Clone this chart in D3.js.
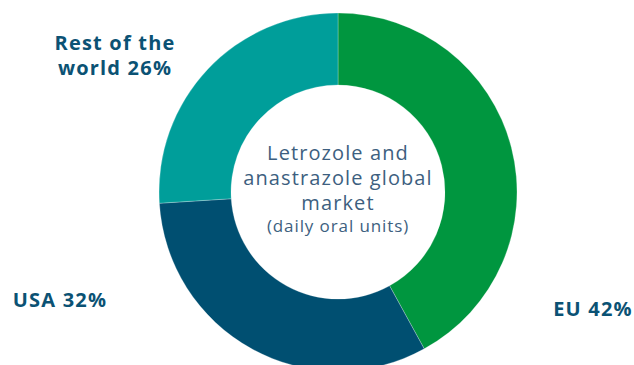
<!DOCTYPE html>
<html><head><meta charset="utf-8">
<script src="https://cdn.jsdelivr.net/npm/d3@7"></script>
<style>html,body{margin:0;padding:0;background:#fff;}svg{display:block;}</style>
</head><body>
<svg id="c" width="634" height="365"></svg>
<script>
const categories = ["EU", "USA", "Rest of the world"];
const shares = [42, 32, 26];
const colors = ["#00963F", "#004F71", "#009E9A"];
const centerLines = ["Letrozole and", "anastrazole global", "market"];
const centerSub = "(daily oral units)";

const svg = d3.select("#c");
const cx = 338, cy = 192, R = 179, r = 107;
const g = svg.append("g").attr("transform", `translate(${cx},${cy})`);
const pie = d3.pie().sort(null).value(d => d)(shares);
const arc = d3.arc().innerRadius(r).outerRadius(R);
g.selectAll("path").data(pie).join("path")
  .attr("d", arc).attr("fill", (d,i) => colors[i])
  .attr("stroke", "#ffffff").attr("stroke-width", 0.5).attr("stroke-opacity", 0.5);

const font = "'Open Sans', sans-serif";
const ct = g.append("g").attr("font-family", font).attr("fill", "#3D5F7F").attr("text-anchor", "middle");
centerLines.forEach((t, i) => {
  ct.append("text").attr("x", 0).attr("y", -32 + i * 25).attr("font-size", 20)
    .attr("letter-spacing", 1.1).attr("font-weight", 400).text(t);
});
ct.append("text").attr("x", 0).attr("y", 40).attr("font-size", 17).attr("letter-spacing", 0.9).text(centerSub);

const lab = svg.append("g").attr("font-family", font).attr("font-weight", 700).attr("fill", "#0B5274")
  .attr("font-size", 20).attr("letter-spacing", 1.2);
lab.append("text").attr("x", 593).attr("y", 316).attr("text-anchor", "middle").text(`${categories[0]} ${shares[0]}%`);
lab.append("text").attr("x", 60).attr("y", 307).attr("text-anchor", "middle").text(`${categories[1]} ${shares[1]}%`);
lab.append("text").attr("x", 115).attr("y", 50).attr("text-anchor", "middle").text("Rest of the");
lab.append("text").attr("x", 115).attr("y", 75).attr("text-anchor", "middle").text(`world ${shares[2]}%`);
</script>
</body></html>
